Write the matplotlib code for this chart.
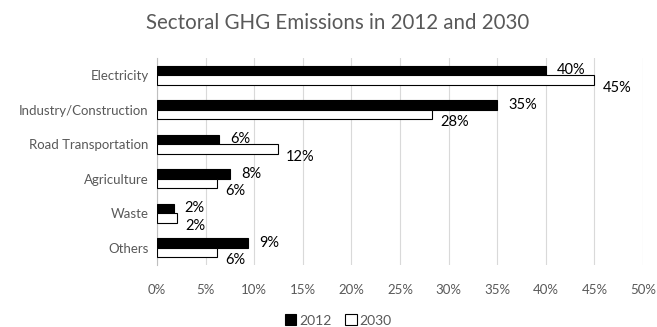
import numpy as np
import matplotlib.pyplot as plt
from matplotlib.ticker import PercentFormatter

# Dados
setores = ['Electricity', 'Industry/Construction', 'Road Transportation',
           'Agriculture', 'Waste', 'Others']
v2012 = [40.0, 35.0, 6.4, 7.5, 1.7, 9.4]
v2030 = [45.0, 28.3, 12.4, 6.2, 2.1, 6.2]
rot2012 = ['40%', '35%', '6%', '8%', '2%', '9%']
rot2030 = ['45%', '28%', '12%', '6%', '2%', '6%']
ticks_x = [0, 5, 10, 15, 20, 25, 30, 35, 40, 45, 50]

plt.rcParams['font.family'] = ['Lato', 'DejaVu Sans']
cinza = '#595959'

fig = plt.figure(figsize=(6.57, 3.27), dpi=100)
ax = fig.add_axes([157 / 657, 1 - 265 / 327, 486 / 657, 207 / 327])

y = np.arange(len(setores))
h = 0.28
ax.barh(y - h / 2, v2012, height=h, color='black', edgecolor='black', linewidth=0.8, label='2012', zorder=3)
ax.barh(y + h / 2, v2030, height=h, color='white', edgecolor='black', linewidth=0.8, label='2030', zorder=3)

for i in range(len(setores)):
    ax.annotate(rot2012[i], (v2012[i], y[i] - h / 2), xytext=(8, 0), textcoords='offset points',
                va='center', ha='left', fontsize=10.5, color='black')
    ax.annotate(rot2030[i], (v2030[i], y[i] + h / 2), xytext=(6, -5.5), textcoords='offset points',
                va='center', ha='left', fontsize=10.5, color='black')

ax.set_yticks(y)
ax.set_yticklabels(setores, fontsize=9.5, color=cinza)
ax.set_ylim(len(setores) - 0.5, -0.5)
ax.set_xlim(0, 50)
ax.set_xticks(ticks_x)
ax.xaxis.set_major_formatter(PercentFormatter(decimals=0))
ax.tick_params(axis='x', labelsize=9.5, colors=cinza, length=0, pad=14)
ax.tick_params(axis='y', length=0, pad=6)
ax.grid(axis='x', color='#d9d9d9', linewidth=0.8, zorder=0)
for s in ['top', 'right', 'bottom']:
    ax.spines[s].set_visible(False)
ax.spines['left'].set_color('#bfbfbf')

fig.suptitle('Sectoral GHG Emissions in 2012 and 2030', x=0.514, y=0.96, fontsize=14.8, color=cinza)
fig.legend(loc='center', bbox_to_anchor=(0.515, 0.02), ncol=2, frameon=False, fontsize=10,
           handlelength=0.8, handleheight=0.8, handletextpad=0.2, columnspacing=1.0,
           labelcolor=cinza)

fig.savefig('out.png', dpi=100)
